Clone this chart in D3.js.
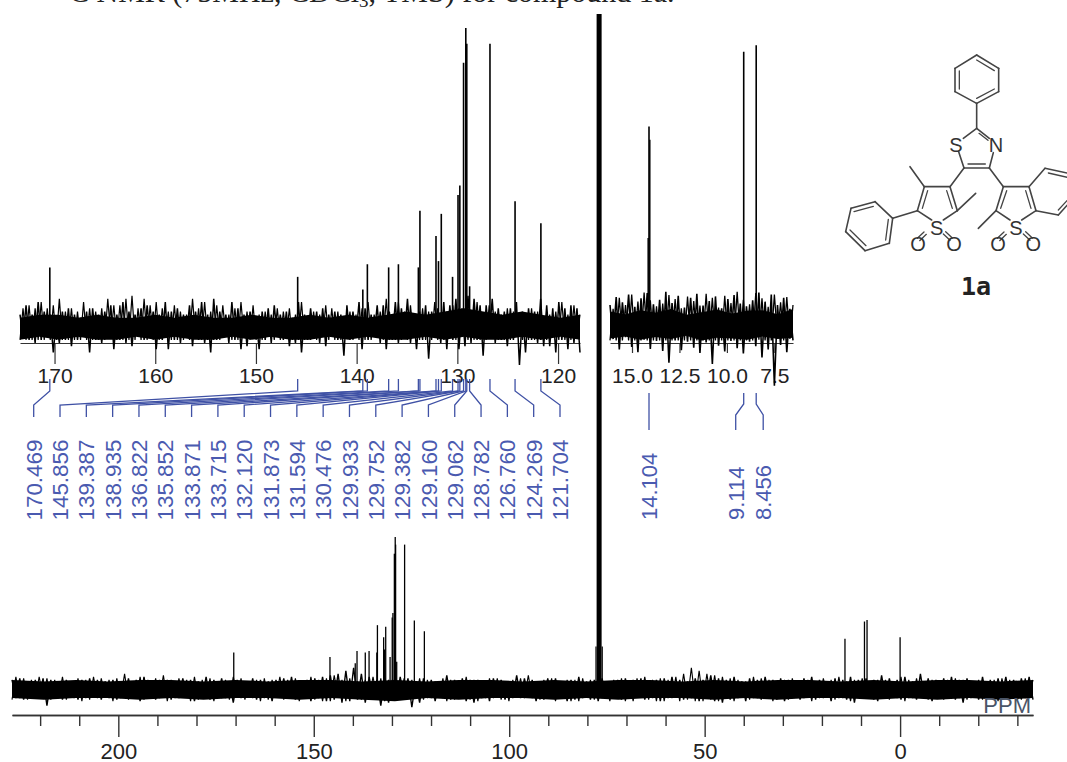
<!DOCTYPE html>
<html>
<head>
<meta charset="utf-8">
<script src="https://cdnjs.cloudflare.com/ajax/libs/d3/7.8.5/d3.min.js"></script>
<style>
    html, body { margin: 0; padding: 0; background: #fff; }
    svg { display: block; }
    text { font-family: "Liberation Sans", Arial, sans-serif; }
</style>
</head>
<body>
<svg id="chart" width="1067" height="762"></svg>
<script>
// Assigned carbon peaks, ppm and height (tallest peak = 100).
var peakPpm = [170.469, 145.856, 139.387, 138.935, 136.822, 135.852, 133.871, 133.715, 132.120, 131.873, 131.594,
    130.476, 129.933, 129.752, 129.382, 129.160, 129.062, 128.782, 126.760, 124.269, 121.704];
var peakHeight = [24, 21, 17, 25, 24, 25, 24, 42, 34, 26, 41, 21, 47, 50, 89, 100, 95, 18, 95, 45, 38];

var alkylPpm = [14.104, 9.114, 8.456];
var alkylHeight = [33, 44.4, 45.4];

// The 14.104 line is visibly wider in the expanded region.
var alkylShoulderPpm = [14.15, 14.06];
var alkylShoulderHeight = [16, 31];

// TMS reference and the CDCl3 solvent multiplet only show on the full spectrum.
var tmsPpm = [0];
var tmsHeight = [34];
var solventPpm = [77.36, 77.0, 76.64];
var solventHeight = [444, 444, 444];
var solventFootPpm = [77.8, 76.2];
var solventFootHeight = [28, 28];

var mainMajorTicks = [200, 150, 100, 50, 0];
var mainMinorTicks = [220, 210, 190, 180, 170, 160, 140, 130, 120, 110, 90, 80, 70, 60, 40, 30, 20, 10, -10, -20, -30];
var leftTicks = [170, 160, 150, 140, 130, 120];
var rightTicks = [15, 12.5, 10, 7.5];

// Noise: tips alternating up and down, left to right.
var leftNoise = [
    9,2,12,1,9,0,13,1,10,2,9,-3,8,0,10,1,11,-1,9,1,
    8,2,10,-3,11,1,9,0,10,2,12,-2,9,1,13,0,10,-1,9,3,
    11,1,12,2,10,-2,9,1,13,-2,10,1,11,0,9,2,12,-1,10,1,
    13,0,9,-3,14,1,10,2,9,0,13,1,11,-2,9,-1,10,2,8,-2,
    10,1,11,0,12,2,9,1,10,-1,8,0,13,-3,9,1,11,2,10,0,
    11,-1,9,2,10,1,9,-4,12,1,10,2,13,-2,11,1,9,2,12,0,
    12,-2,10,1,13,0,11,2,14,0,9,-2,10,1,12,-5,10,2,11,0,
    13,-2,12,1,14,-2,11,-1,15,0,14,1,12,-4,12,2,14,0,11,1,
    10,-1,11,1,13,-7,10,-3,11,1,10,0,14,-1,12,-1,11,-3,13,1,
    11,-2,12,0,11,-3
];
var leftCoreTop = [8,9,9,8,9,8,8,9,8,9,8,8,9,8,8,9,8,9,8,9,10,9,10,11,10,9,10,9,8,9];
var leftCoreBottom = [1,2,1,2,1,1,2,1,2,1,1,2,1,2,1,1,2,1,2,1,1,2,1,2,1,1,2,1,2,1];

var rightNoise = [
    5.8,0.6,7.0,-1.0,6.2,0.9,7.4,-0.6,5.5,-1.4,6.8,0.5,7.6,-0.9,5.9,0.3,6.6,-1.2,7.8,-3.0,
    6.1,0.4,7.2,-1.1,5.4,0.2,6.9,-0.7,7.5,-1.5,5.7,0.1,6.4,-3.2,7.1,-0.4,5.3,-1.3,6.7,0.3,
    7.3,-0.8,6.0,-1.6,5.6,0.2,6.5,-0.5,7.7,-2.2,6.3,-1.0,7.4,-6.5,5.8,-0.3,6.9,-1.4,5.2,0.4
];
var rightCoreTop = [4.8,4.4,5.0,4.6,5.2,4.3,4.7,5.1,4.5,4.9,5.0,4.4,5.2];
var rightCoreBottom = [0.7,1.0,0.5,0.9,0.6,1.1,0.4,0.8,0.7,0.5,1.0,0.6,0.8];

var mainNoise = [
    6,-6,7,-7,5,-6,6,-5,7,-11,6,-6,5,-7,6,-5,5,-7,6,-6,
    7,-5,6,-7,5,-6,6,-7,5,-5,7,-6,6,-8,8,-6,5,-7,6,-5,
    6,-7,5,-6,7,-5,6,-8,5,-6,8,-7,6,-5,7,-6,5,-9,6,-6,
    5,-5,7,-7,6,-6,5,-8,6,-5,7,-6,8,-7,5,-5,6,-8,7,-6,
    8,-8,9,-7,10,-9,12,-8,14,-7,10,-9,8,-6,6,-11,7,-9,6,-7,
    8,-5,7,-12,5,-9,7,-6,6,-8,5,-6,9,-7,6,-5,7,-8,6,-9,
    6,-6,5,-8,7,-5,6,-7,5,-6,9,-6,7,-5,6,-8,5,-7,7,-6,
    7,-6,5,-8,6,-7,8,-6,5,-7,6,-8,7,-5,5,-6,6,-7,7,-6,
    6,-5,7,-7,5,-6,6,-8,7,-6,8,-5,6,-7,5,-6,7,-8,6,-5,
    9,-8,7,-9,6,-7,8,-6,5,-8,7,-6,6,-7,8,-5,6,-7,7,-8,
    6,-6,5,-7,7,-5,8,-7,6,-6,5,-8,7,-6,6,-7,8,-9,6,-5,
    7,-6,6,-8,9,-6,7,-5,6,-7,8,-6,5,-7,10,-6,7,-8,6,-5,
    7,-6,8,-7,6,-9,7,-6,5,-7,8,-6,6,-7,7,-5,8,-6,6,-7,
    7,-6,8,-7
];
var mainCoreTop = [6,5,6,5,6,6,5,6,5,6,6,5,6,5,6,6,5,6,5,6,6,5,6,5,6,6,5,6,5,6,6,5,6];
var mainCoreBottom = [-6,-7,-6,-6,-7,-6,-7,-6,-6,-7,-6,-7,-8,-6,-7,-6,-6,-7,-6,-7,-6,-6,-7,-6,-7,-6,-6,-7,-6,-7,-6,-7,-6];

// Structure of compound 1a, as drawn, in the units of its own little scale.
var moleculeBonds = [
    [440,190,440,265], [440,265,400,295], [386,335,402,384], [402,384,478,384], [478,384,490,338],
    [440,265,478,295], [402,384,360,440], [478,384,520,440],
    [283,440,360,440], [283,440,262,512], [360,440,382,512], [283,440,240,380], [382,512,437,460],
    [262,512,305,540], [382,512,340,540], [262,512,188,535],
    [520,440,597,440], [520,440,498,512], [597,440,618,512], [498,512,445,565],
    [498,512,540,540], [618,512,575,540],
    [597,440,645,385], [645,385,725,402], [618,512,685,525], [685,525,730,475],
    [440,45,506,85], [506,85,506,155], [506,155,440,190], [440,190,375,155], [375,155,375,85], [375,85,440,45],
    [188,535,135,485], [135,485,63,505], [63,505,47,575], [47,575,105,632], [105,632,178,610], [178,610,188,535]
];
var moleculeInnerBonds = [
    [414,372,466,372], [447,280,474,301], [293,452,277,505], [350,452,367,505],
    [530,452,512,505], [587,452,603,505], [655,399,725,415], [685,510,722,470],
    [440,60,493,92], [493,147,440,175], [388,147,388,93],
    [130,499,72,515], [60,570,108,617], [167,600,175,538],
    [282,576,262,595], [289,583,269,602], [340,582,360,601], [347,575,367,594],
    [522,576,502,595], [529,583,509,602], [580,582,600,601], [587,575,607,594]
];
var moleculeAtoms = [
    ["S", 378, 314], ["N", 498, 314], ["S", 320, 562], ["O", 264, 612], ["O", 372, 612],
    ["S", 558, 562], ["O", 504, 612], ["O", 610, 612]
];

var svg = d3.select("#chart");
var inkBlack = "#000";
var axisGrey = "#333";
var markerBlue = "#3f51a5";
var labelBlue = "#4a5ab0";

// Scales. Full spectrum along the bottom, two expanded regions above it.
var xMain = d3.scaleLinear().domain([227.2, -34]).range([12, 1033]);
var xLeft = d3.scaleLinear().domain([173.43, 117.82]).range([20, 580]);
var xRight = d3.scaleLinear().domain([16.159, 6.517]).range([610, 793]);
var yMain = d3.scaleLinear().domain([0, 100]).range([689, 537]);
var yLeft = d3.scaleLinear().domain([0, 100]).range([343, 28]);
var yRight = d3.scaleLinear().domain([0, 100]).range([343, -313]);

function drawNoise(noise, coreTop, coreBottom, x, y, lineWidth) {
    var ppmRange = x.domain();
    var noiseX = d3.scaleLinear().domain([0, noise.length - 1]).range(ppmRange);
    var coreX = d3.scaleLinear().domain([0, coreTop.length - 1]).range(ppmRange);
    var floor = d3.min(coreBottom);

    var area = d3.area()
        .x(function(d, i) { return x(coreX(i)); })
        .y0(function(d, i) { return y(coreBottom[i]); })
        .y1(function(d) { return y(d); });
    svg.append("path").attr("d", area(coreTop)).attr("fill", inkBlack);

    var line = d3.line()
        .x(function(d, i) { return x(noiseX(i)); })
        .y(function(d) { return y(d); });
    svg.append("path").attr("d", line(noise))
        .attr("fill", "none")
        .attr("stroke", inkBlack)
        .attr("stroke-width", lineWidth);

    // Second pass in the other direction so the upper fringe gets as dense as
    // the trace. Dips are cut off here, the real ones stay where they were read.
    var fringe = line.y(function(d) { return y(Math.max(d, floor)); });
    svg.append("path").attr("d", fringe(noise.slice().reverse()))
        .attr("fill", "none")
        .attr("stroke", inkBlack)
        .attr("stroke-width", lineWidth * 0.8);
}

function drawPeaks(ppm, height, x, y, lineWidth) {
    svg.append("g").selectAll("line").data(ppm).enter().append("line")
        .attr("x1", function(d) { return x(d); })
        .attr("x2", function(d) { return x(d); })
        .attr("y1", y(3))
        .attr("y2", function(d, i) { return y(height[i]); })
        .attr("stroke", inkBlack)
        .attr("stroke-width", lineWidth);
}

function drawInsetAxis(x, y, ticks, format, tickLength, padding) {
    var axis = d3.axisBottom(x).tickValues(ticks).tickSizeInner(tickLength).tickSizeOuter(0).tickPadding(padding).tickFormat(format);
    var g = svg.append("g").attr("transform", "translate(0," + y(0) + ")").call(axis);
    g.selectAll("path, line").attr("stroke", axisGrey).attr("stroke-width", 1.2);
    g.selectAll("text").attr("font-size", 21).attr("fill", "#222");
}

// Title line, cut by the top of the picture.
var title = svg.append("text").attr("x", 50).attr("y", 2)
    .attr("font-size", 30).attr("fill", "#222")
    .style("font-family", "'Liberation Serif', serif");
title.append("tspan").attr("font-size", 19).attr("dy", -10).text("13");
title.append("tspan").attr("dy", 10).text("C NMR (75MHz, CDCl");
title.append("tspan").attr("font-size", 19).attr("dy", 5).text("3");
title.append("tspan").attr("dy", -5).text(", TMS) for compound 1a.");

// Left expanded region.
drawInsetAxis(xLeft, yLeft, leftTicks, d3.format("d"), 21, 4);
drawNoise(leftNoise, leftCoreTop, leftCoreBottom, xLeft, yLeft, 1.5);
drawPeaks(peakPpm, peakHeight, xLeft, yLeft, 1.6);

// Right expanded region.
drawInsetAxis(xRight, yRight, rightTicks, d3.format(".1f"), 10, 15);
drawNoise(rightNoise, rightCoreTop, rightCoreBottom, xRight, yRight, 1.6);
drawPeaks(alkylPpm, alkylHeight, xRight, yRight, 1.6);
drawPeaks(alkylShoulderPpm, alkylShoulderHeight, xRight, yRight, 1.4);

// Full spectrum.
drawNoise(mainNoise, mainCoreTop, mainCoreBottom, xMain, yMain, 1.4);
drawPeaks(peakPpm, peakHeight, xMain, yMain, 1.3);
drawPeaks(alkylPpm, alkylHeight, xMain, yMain, 1.3);
drawPeaks(tmsPpm, tmsHeight, xMain, yMain, 1.3);
drawPeaks(solventPpm, solventHeight, xMain, yMain, 2.2);
drawPeaks(solventFootPpm, solventFootHeight, xMain, yMain, 1.2);

var mainAxis = d3.axisBottom(xMain).tickValues(mainMajorTicks).tickSizeInner(22).tickSizeOuter(0).tickPadding(6).tickFormat(d3.format("d"));
var minorAxis = d3.axisBottom(xMain).tickValues(mainMinorTicks).tickSizeInner(11).tickSizeOuter(0).tickFormat("");
var mainAxisG = svg.append("g").attr("transform", "translate(0,715)").call(mainAxis);
var minorAxisG = svg.append("g").attr("transform", "translate(0,715)").call(minorAxis);
mainAxisG.selectAll("path, line").attr("stroke", axisGrey).attr("stroke-width", 1.4);
minorAxisG.selectAll("path, line").attr("stroke", axisGrey).attr("stroke-width", 1.4);
mainAxisG.selectAll("text").attr("font-size", 22).attr("fill", "#222");

svg.append("text").attr("x", 1031).attr("y", 713)
    .attr("text-anchor", "end").attr("font-size", 22).attr("fill", "#4a5568").text("PPM");

// Peak pickers: a bent leader from each peak down to its rotated value.
var leaderLine = d3.line();
var labelX = d3.scalePoint().domain(peakPpm).range([33.7, 560]);

svg.append("g").selectAll("path").data(peakPpm).enter().append("path")
    .attr("d", function(d) {
        return leaderLine([[xLeft(d), 379], [xLeft(d), 391], [labelX(d), 405], [labelX(d), 417]]);
    })
    .attr("fill", "none")
    .attr("stroke", markerBlue)
    .attr("stroke-width", 1.3);

svg.append("g").selectAll("text").data(peakPpm).enter().append("text")
    .attr("transform", function(d) { return "translate(" + labelX(d) + ",520.5) rotate(-90)"; })
    .attr("dy", "0.36em")
    .attr("font-size", 22.4)
    .attr("fill", labelBlue)
    .text(function(d) { return d3.format(".3f")(d); });

var alkylLabelOffset = [0, -8, 7];

svg.append("g").selectAll("path").data(alkylPpm).enter().append("path")
    .attr("d", function(d, i) {
        var lx = xRight(d) + alkylLabelOffset[i];
        return leaderLine([[xRight(d), 393], [xRight(d), 404], [lx, 415], [lx, 430]]);
    })
    .attr("fill", "none")
    .attr("stroke", markerBlue)
    .attr("stroke-width", 1.3);

svg.append("g").selectAll("text").data(alkylPpm).enter().append("text")
    .attr("transform", function(d, i) { return "translate(" + (xRight(d) + alkylLabelOffset[i]) + ",520) rotate(-90)"; })
    .attr("dy", "0.36em")
    .attr("font-size", 22)
    .attr("fill", labelBlue)
    .text(function(d) { return d3.format(".3f")(d); });

// Compound 1a.
var molX = d3.scaleLinear().domain([0, 711]).range([830, 1067]);
var molY = d3.scaleLinear().domain([0, 810]).range([40, 310]);
var molecule = svg.append("g");

function drawBonds(bonds, lineWidth) {
    molecule.append("g").selectAll("line").data(bonds).enter().append("line")
        .attr("x1", function(d) { return molX(d[0]); })
        .attr("y1", function(d) { return molY(d[1]); })
        .attr("x2", function(d) { return molX(d[2]); })
        .attr("y2", function(d) { return molY(d[3]); })
        .attr("stroke", "#444")
        .attr("stroke-width", lineWidth)
        .attr("stroke-linecap", "round");
}

drawBonds(moleculeBonds, 1.6);
drawBonds(moleculeInnerBonds, 1.3);

molecule.append("g").selectAll("text").data(moleculeAtoms).enter().append("text")
    .attr("x", function(d) { return molX(d[1]); })
    .attr("y", function(d) { return molY(d[2]); })
    .attr("dy", "0.36em")
    .attr("text-anchor", "middle")
    .attr("font-size", 20)
    .attr("fill", "#333")
    .text(function(d) { return d[0]; });

svg.append("text").attr("x", 976).attr("y", 295)
    .attr("text-anchor", "middle")
    .attr("font-size", 25)
    .attr("font-weight", "bold")
    .attr("fill", "#222")
    .style("font-family", "'DejaVu Sans Mono', monospace")
    .text("1a");
</script>
</body>
</html>
